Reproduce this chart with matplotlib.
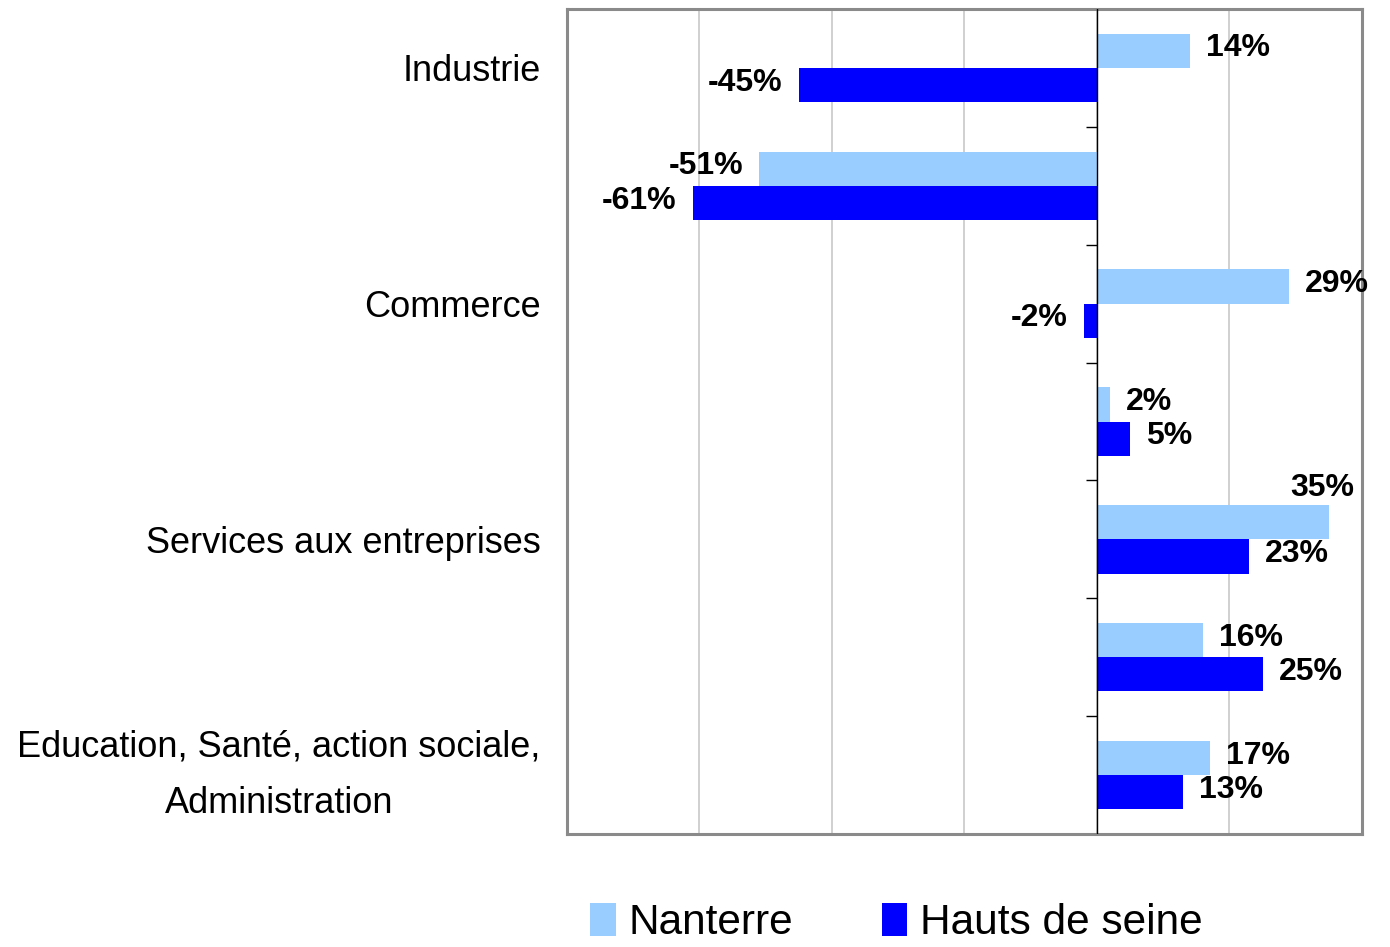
import numpy as np
import matplotlib.pyplot as plt
from matplotlib.transforms import ScaledTranslation

# values (%), top to bottom
categories = ['Industrie', '', 'Commerce', '', 'Services aux entreprises', '',
              'Education, Santé, action sociale,\nAdministration']
nanterre = [14, -51, 29, 2, 35, 16, 17]
hauts_de_seine = [-45, -61, -2, 5, 23, 25, 13]
series_names = ['Nanterre', 'Hauts de seine']

light_blue = '#99CCFF'
blue = '#0000FF'
sans = ['Liberation Sans', 'DejaVu Sans']

fig = plt.figure(figsize=(13.9, 9.47), dpi=100)
ax = fig.add_axes([0.4079, 0.1193, 0.5719, 0.8712])

y = np.arange(len(categories))
h = 0.29
ax.barh(y - h / 2, nanterre, height=h, color=light_blue, label=series_names[0], zorder=2)
ax.barh(y + h / 2, hauts_de_seine, height=h, color=blue, label=series_names[1], zorder=2)

ax.set_xlim(-80, 40)
ax.set_ylim(len(categories) - 0.5, -0.5)

# gridlines and the zero axis with its tick marks
ax.set_xticks(np.arange(-60, 40, 20))
ax.xaxis.grid(True, color='#c8c8c8', lw=1.2, zorder=0)
ax.tick_params(axis='x', length=0, labelbottom=False)
ax.axvline(0, color='black', lw=1.0, zorder=3)
ax.hlines(np.arange(0.5, len(categories) - 0.5, 1), -1.6, 0, color='black', lw=1.0, zorder=3)

ax.set_yticks(y)
ax.set_yticklabels(categories, fontsize=26, family=sans)
ax.tick_params(axis='y', length=0, pad=19)
for lab in ax.get_yticklabels():
    lab.set_multialignment('center')
    lab.set_linespacing(1.8)
# the two-line label sits a little higher in the original
last = ax.get_yticklabels()[-1]
last.set_transform(last.get_transform() + ScaledTranslation(0, 0.15, fig.dpi_scale_trans))

for s in ax.spines.values():
    s.set_color('#8a8a8a')
    s.set_linewidth(2.2)

def put_label(val, yy, dy=0):
    off = 11.5 if val >= 0 else -11.5
    ha = 'left' if val >= 0 else 'right'
    ax.annotate('{}%'.format(val), (val, yy), xytext=(off, dy), textcoords='offset points',
                ha=ha, va='center', fontsize=23, fontweight='bold', family=sans, zorder=4)

for i in range(len(categories)):
    yn = y[i] - h / 2 - 0.02
    yh = y[i] + h / 2 - 0.02
    if i == 4:
        # label moved above the bar in the original
        ax.annotate('{}%'.format(nanterre[i]), (38.8, yn - 0.27), ha='right', va='center',
                    fontsize=23, fontweight='bold', family=sans, zorder=4)
    else:
        put_label(nanterre[i], yn)
    put_label(hauts_de_seine[i], yh)

leg = fig.legend(loc='center', bbox_to_anchor=(0.645, 0.025), ncol=2, frameon=False,
                 prop={'family': sans, 'size': 30.5}, handlelength=0.6, handleheight=0.8,
                 handletextpad=0.3, columnspacing=2.1, borderpad=0)

fig.savefig('out.png', dpi=100)
